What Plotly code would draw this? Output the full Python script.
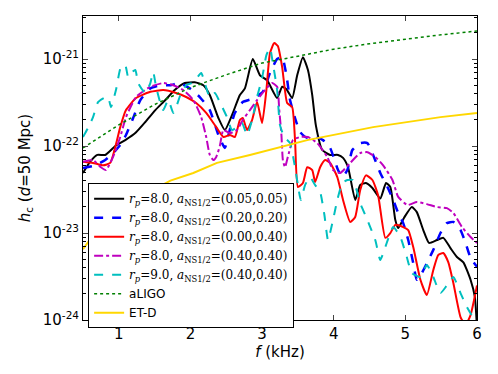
import plotly.graph_objects as go

# frekvence v kHz, h_c hodnoty
f_k = [0.50, 0.60, 0.70, 0.81, 0.95, 1.09, 1.23, 1.37, 1.51, 1.65, 1.78, 1.92, 2.06, 2.18, 2.27, 2.39,
       2.48, 2.58, 2.69, 2.76, 2.87, 2.97, 3.07, 3.21, 3.28, 3.34, 3.42, 3.49, 3.57, 3.64, 3.70, 3.75,
       3.84, 3.95, 4.06, 4.13, 4.20, 4.30, 4.37, 4.45, 4.54, 4.65, 4.73, 4.79, 4.86, 4.90, 4.98, 5.09,
       5.16, 5.25, 5.33, 5.44, 5.53, 5.63, 5.72, 5.81, 5.91, 5.97, 6.00]
h_k = [4.9e-23, 6.6e-23, 7.9e-23, 7.9e-23, 1.0e-22, 1.17e-22, 1.41e-22, 1.89e-22, 2.59e-22, 3.38e-22,
       4.4e-22, 5.3e-22, 5.4e-22, 5.0e-22, 3.86e-22, 2.1e-22, 1.53e-22, 2.27e-22, 3.86e-22, 4.6e-22,
       1.0e-21, 6.5e-22, 5.7e-22, 3.56e-22, 4.8e-22, 4.5e-22, 3.56e-22, 6.5e-22, 1.05e-21, 7.5e-22,
       3.86e-22, 1.74e-22, 9.0e-23, 7.9e-23, 7.9e-23, 7.3e-23, 5.7e-23, 2.4e-23, 3.56e-23, 3.76e-23,
       3.29e-23, 2.5e-23, 3.76e-23, 3.38e-23, 1.41e-23, 1.14e-23, 1.49e-23, 1.99e-23, 1.74e-23, 1.08e-23,
       7.7e-24, 8.3e-24, 8.8e-24, 6.7e-24, 5.3e-24, 4.6e-24, 2.9e-24, 1.84e-24, 0.8e-24]

f_b = [0.50, 0.67, 0.81, 0.92, 1.02, 1.10, 1.20, 1.30, 1.44, 1.58, 1.72, 1.85, 1.99, 2.13, 2.27, 2.39,
       2.48, 2.53, 2.62, 2.73, 2.87, 3.01, 3.11, 3.21, 3.28, 3.34, 3.39, 3.46, 3.53, 3.63, 3.74, 3.85,
       3.95, 4.06, 4.12, 4.19, 4.26, 4.37, 4.47, 4.55, 4.65, 4.75, 4.83, 4.90, 4.97, 5.04, 5.11, 5.16,
       5.23, 5.30, 5.39, 5.49, 5.58, 5.67, 5.77, 5.84, 5.91, 6.00]
h_b = [5.6e-23, 6.0e-23, 6.9e-23, 8.3e-23, 1.03e-22, 1.34e-22, 2.1e-22, 3.38e-22, 4.6e-22, 5.0e-22,
       5.0e-22, 5.3e-22, 4.6e-22, 3.66e-22, 2.59e-22, 1.34e-22, 9.5e-23, 1.34e-22, 2.4e-22, 3.2e-22,
       3.5e-22, 4.2e-22, 6.9e-22, 1.0e-21, 1.05e-21, 6.5e-22, 3.38e-22, 2.1e-22, 1.45e-22, 1.24e-22,
       1.27e-22, 1.17e-22, 9.5e-23, 5.3e-23, 4.4e-23, 5.3e-23, 9.0e-23, 1.08e-22, 1.08e-22, 7.9e-23,
       4.9e-23, 3.38e-23, 2.4e-23, 1.7e-23, 1.3e-23, 8.3e-24, 4.5e-24, 2.9e-24, 3.47e-24, 4.5e-24,
       6.4e-24, 1.0e-23, 1.3e-23, 1.34e-23, 1.08e-23, 7.7e-24, 5.2e-24, 4.1e-24]

f_r = [0.50, 0.64, 0.78, 0.88, 0.95, 1.02, 1.10, 1.24, 1.44, 1.62, 1.80, 1.94, 2.08, 2.22, 2.36, 2.46,
       2.55, 2.62, 2.69, 2.73, 2.79, 2.86, 2.93, 3.00, 3.06, 3.11, 3.17, 3.22, 3.28, 3.35, 3.42, 3.46,
       3.50, 3.57, 3.63, 3.70, 3.74, 3.81, 3.88, 3.95, 4.05, 4.13, 4.23, 4.30, 4.37, 4.45, 4.54, 4.62,
       4.72, 4.79, 4.86, 4.97, 5.04, 5.11, 5.21, 5.30, 5.39, 5.46, 5.53, 5.60, 5.67, 5.77, 5.84, 5.91, 6.00]
h_r = [6.6e-23, 6.4e-23, 6.0e-23, 6.4e-23, 9.7e-23, 1.65e-22, 2.59e-22, 3.56e-22, 4.2e-22, 4.4e-22,
       4.07e-22, 3.66e-22, 3.12e-22, 2.4e-22, 1.65e-22, 1.27e-22, 1.34e-22, 1.27e-22, 1.99e-22, 2.1e-22,
       1.53e-22, 1.99e-22, 3.2e-22, 1.84e-22, 4.4e-22, 1.17e-21, 1.53e-21, 1.41e-21, 8.1e-22, 3.12e-22,
       2.8e-22, 1.17e-22, 3.38e-23, 3.76e-23, 5.7e-23, 5.3e-23, 3.86e-23, 5.7e-23, 6.9e-23, 6.4e-23,
       4.4e-23, 2.4e-23, 1.34e-23, 1.53e-23, 3.12e-23, 4.6e-23, 4.07e-23, 2.7e-23, 8.8e-24, 1.0e-23,
       1.24e-23, 1.17e-23, 1.08e-23, 6.9e-24, 2.9e-24, 1.94e-24, 3.76e-24, 5.6e-24, 5.9e-24, 4.6e-24,
       2.66e-24, 1.08e-24, 0.88e-24, 1.14e-24, 2.5e-24]

f_m = [0.50, 0.64, 0.75, 0.82, 0.92, 1.02, 1.10, 1.24, 1.44, 1.62, 1.76, 1.90, 2.04, 2.15, 2.22, 2.27,
       2.32, 2.36, 2.41, 2.46, 2.55, 2.65, 2.73, 2.83, 2.93, 3.04, 3.14, 3.21, 3.24, 3.27, 3.29, 3.32,
       3.36, 3.43, 3.53, 3.64, 3.77, 3.91, 3.99, 4.09, 4.23, 4.37, 4.47, 4.58, 4.69, 4.82, 4.90, 5.03,
       5.16, 5.30, 5.44, 5.58, 5.67, 5.79, 5.91, 6.00]
h_m = [6.6e-23, 6.9e-23, 5.7e-23, 5.3e-23, 7.5e-23, 1.27e-22, 2.15e-22, 3.66e-22, 4.8e-22, 5.3e-22,
       5.0e-22, 4.4e-22, 3.38e-22, 2.15e-22, 1.27e-22, 7.9e-23, 6.9e-23, 7.5e-23, 1.0e-22, 1.53e-22,
       1.41e-22, 1.53e-22, 1.99e-22, 2.59e-22, 3.38e-22, 4.4e-22, 5.3e-22, 4.8e-22, 2.59e-22, 1.34e-22,
       6.9e-23, 5.7e-23, 7.5e-23, 1.17e-22, 1.27e-22, 1.27e-22, 1.08e-22, 7.5e-23, 5.3e-23, 4.9e-23,
       6.4e-23, 8.3e-23, 8.5e-23, 7.5e-23, 6.0e-23, 4.07e-23, 2.6e-23, 2.1e-23, 2.27e-23, 2.15e-23,
       1.99e-23, 1.93e-23, 1.7e-23, 1.17e-23, 9.0e-24, 7.7e-24]

f_c = [0.50, 0.57, 0.64, 0.71, 0.79, 0.85, 0.89, 0.96, 1.03, 1.09, 1.13, 1.17, 1.23, 1.27, 1.37, 1.44,
       1.48, 1.52, 1.58, 1.62, 1.69, 1.76, 1.80, 1.87, 1.94, 2.04, 2.15, 2.20, 2.27, 2.34, 2.41, 2.51,
       2.58, 2.65, 2.72, 2.79, 2.86, 2.93, 3.00, 3.06, 3.11, 3.15, 3.21, 3.25, 3.31, 3.39, 3.46, 3.50,
       3.54, 3.60, 3.67, 3.74, 3.81, 3.87, 3.92, 3.99, 4.05, 4.12, 4.19, 4.27, 4.37, 4.47, 4.58, 4.65,
       4.72, 4.83, 4.93, 5.02, 5.09, 5.21, 5.30, 5.39, 5.49, 5.58, 5.67, 5.77, 5.86, 5.95, 6.00]
h_c = [1.27e-22, 1.61e-22, 2.15e-22, 3.2e-22, 3.56e-22, 3.66e-22, 2.8e-22, 4.4e-22, 8.1e-22, 8.5e-22,
       6.2e-22, 6.9e-22, 7.5e-22, 5.3e-22, 4.07e-22, 5.3e-22, 7.1e-22, 4.8e-22, 3.12e-22, 2.59e-22,
       3.38e-22, 2.4e-22, 2.8e-22, 4.07e-22, 5.0e-22, 5.4e-22, 6.9e-22, 5.3e-22, 3.66e-22, 4.07e-22,
       3.2e-22, 2.15e-22, 1.53e-22, 1.65e-22, 1.84e-22, 1.34e-22, 1.99e-22, 3.66e-22, 6.05e-22, 1.11e-21,
       1.34e-21, 9.0e-22, 4.4e-22, 1.74e-22, 1.27e-22, 1.08e-22, 5.7e-23, 3.56e-23, 2.4e-23, 3.56e-23,
       4.4e-23, 3.56e-23, 2.96e-23, 1.61e-23, 8.3e-24, 1.41e-23, 2.4e-23, 3.76e-23, 4.07e-23, 4.07e-23,
       2.2e-23, 1.41e-23, 8.3e-24, 4.9e-24, 6.9e-24, 1.17e-23, 9.0e-24, 5.3e-24, 3.47e-24, 3.12e-24,
       4.3e-24, 3.12e-24, 2.04e-24, 2.5e-24, 3.12e-24, 2.04e-24, 1.41e-24, 1.05e-24, 0.88e-24]

f_ligo = [0.5, 1.0, 1.5, 2.0, 2.5, 3.0, 3.5, 4.0, 4.5, 5.0, 5.5, 6.0]
h_ligo = [9.5e-23, 1.75e-22, 3.0e-22, 4.7e-22, 6.6e-22, 9.0e-22, 1.08e-21, 1.3e-21, 1.5e-21, 1.7e-21,
          1.9e-21, 2.1e-21]

f_et = [0.5, 0.7, 1.0, 1.3, 1.72, 2.04, 2.37, 2.83, 3.63, 4.55, 5.49, 6.0]
h_et = [6.5e-24, 1.1e-23, 1.8e-23, 2.6e-23, 4.0e-23, 4.9e-23, 6.4e-23, 7.9e-23, 1.17e-22, 1.65e-22,
        2.15e-22, 2.4e-22]

y_exp = [-24, -23, -22, -21]
y_ticks = [10.0 ** e for e in y_exp]
y_text = ['10<sup>%d</sup>' % e for e in y_exp]
# vedlejsi znacky na log ose (2..9 v kazde dekade)
minor_y = [m * 10.0 ** e for e in range(-24, -20) for m in range(2, 10)]

def lab(rp, a):
    return ('<i>r</i><sub><i>p</i></sub>=' + rp + ', <i>a</i><sub>NS1/2</sub>=' + a)

sans = '<span style="font-family:DejaVu Sans">%s</span>'

series = [
    (f_k, h_k, lab('8.0', '(0.05,0.05)'), dict(color='black', width=2, shape='spline', smoothing=0.5)),
    (f_b, h_b, lab('8.0', '(0.20,0.20)'), dict(color='#0000ff', width=2.5, dash='dash', shape='spline', smoothing=0.5)),
    (f_r, h_r, lab('8.0', '(0.00,0.40)'), dict(color='#ff0000', width=2, shape='spline', smoothing=0.5)),
    (f_m, h_m, lab('8.0', '(0.40,0.40)'), dict(color='#bf00bf', width=2, dash='dashdot', shape='spline', smoothing=0.5)),
    (f_c, h_c, lab('9.0', '(0.40,0.40)'), dict(color='#00bfbf', width=2, dash='dash', shape='spline', smoothing=0.5)),
    (f_ligo, h_ligo, sans % 'aLIGO', dict(color='#008000', width=1.5, dash='dot')),
    (f_et, h_et, sans % 'ET-D', dict(color='#ffd700', width=2)),
]

fig = go.Figure()
for xs, ys, name, ln in series:
    fig.add_trace(go.Scatter(x=xs, y=ys, mode='lines', line=ln, name=name))

# neviditelna stopa jen kvuli ose s vedlejsimi znackami
fig.add_trace(go.Scatter(x=[0.5, 6], y=[1e-24, 1e-21], yaxis='y2', mode='lines', line=dict(width=0),
                         opacity=0, showlegend=False, hoverinfo='skip'))

# stranka ma okraj 8 px, proto mensi obrazek a okraje
fig.update_layout(
    width=490, height=366,
    margin=dict(l=75, r=21, t=8, b=54),
    paper_bgcolor='white', plot_bgcolor='white',
    font=dict(family='DejaVu Sans', size=15, color='black'),
    showlegend=True,
    legend=dict(x=0.013, y=0.45, xanchor='left', yanchor='top', bgcolor='white',
                bordercolor='black', borderwidth=1, font=dict(family='DejaVu Serif', size=12),
                tracegroupgap=0, itemwidth=30),
    yaxis2=dict(type='log', range=[-24, -20.505], overlaying='y', side='left', anchor='x', tickmode='array',
                tickvals=minor_y, showticklabels=False, ticks='inside', ticklen=3, tickcolor='black',
                mirror='ticks', showline=True, linecolor='black', showgrid=False, zeroline=False,
                automargin=False),
)
fig.update_xaxes(range=[0.5, 6], dtick=1, ticks='inside', ticklen=5, mirror='ticks', showline=True,
                 linecolor='black', linewidth=1, showgrid=False, zeroline=False, automargin=False,
                 title=dict(text='<i>f</i> (kHz)', font=dict(size=15), standoff=4))
fig.update_layout(yaxis=dict(type='log', range=[-24, -20.505], tickmode='array', tickvals=y_ticks, ticktext=y_text,
                             ticks='inside', ticklen=5,
                             mirror='ticks', showline=True, linecolor='black', linewidth=1, showgrid=False,
                             automargin=False,
                             title=dict(text='<i>h</i><sub>c</sub> (<i>d</i>=50 Mpc)', font=dict(size=15), standoff=8)))

fig.write_html("out.html")
